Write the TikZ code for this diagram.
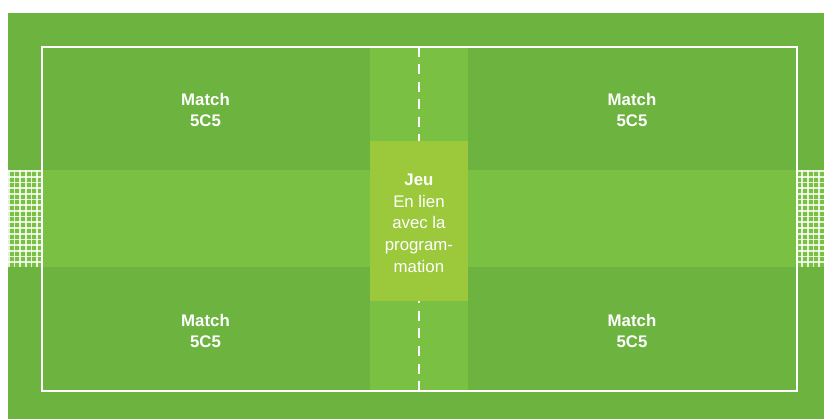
\documentclass[tikz,border=0pt]{standalone}
\usepackage{fontspec}
\setmainfont{Liberation Sans}
\definecolor{fielddark}{HTML}{6CB33F}
\definecolor{fieldlight}{HTML}{7AC143}
\definecolor{boxgreen}{HTML}{9BC93B}
\tikzset{
  lbl/.style={text=white, align=center, inner sep=0pt, font=\fontsize{16.8}{21.6}\selectfont},
  netline/.style={draw=white, draw opacity=0.8, line width=1.7pt},
  fieldline/.style={draw=white, line width=2pt},
  midline/.style={draw=white, line width=2pt, dash pattern=on 10pt off 7.5pt},
}
\begin{document}
\begin{tikzpicture}[x=1pt, y=-1pt]
\useasboundingbox (0,0) rectangle (824,419);
% background
\fill[fielddark] (8,13) rectangle (824,419);
% nets
\fill[fieldlight] (8,170) rectangle (42,267);
\fill[fieldlight] (796,170) rectangle (824,267);
\foreach \x in {9,14.6,...,40} {\draw[netline] (\x,170) -- (\x,267);}
\foreach \x in {802.2,807.8,...,824} {\draw[netline] (\x,170) -- (\x,267);}
\foreach \y in {171,176.7,...,267} {
  \draw[netline] (8,\y) -- (42,\y);
  \draw[netline] (796,\y) -- (824,\y);
}
% bands
\fill[fieldlight] (42,170) rectangle (796,267);
\fill[fieldlight] (370,47) rectangle (467.5,391);
% center box
\node[fill=boxgreen, minimum width=97.5pt, minimum height=160pt, inner sep=0pt, anchor=north west] (box) at (370,141) {};
% field border
\draw[fieldline] (42,47) rectangle (796.5,391);
\coordinate (ctop) at (419,47);
\coordinate (cbot) at (419,391);
\draw[midline] (ctop) -- (box.north -| ctop);
\draw[midline] (cbot) -- (box.south -| cbot);
% texts
\node[lbl] (m1) at (205.5,110) {\textbf{Match}\\\textbf{5C5}};
\node[lbl] (m2) at (632,110) {\textbf{Match}\\\textbf{5C5}};
\node[lbl] (m3) at (205.5,331) {\textbf{Match}\\\textbf{5C5}};
\node[lbl] (m4) at (632,331) {\textbf{Match}\\\textbf{5C5}};
\node[lbl] (jeu) at ([yshift=-2pt]box.center) {\textbf{Jeu}\\En lien\\avec la\\program-\\mation};
\end{tikzpicture}
\end{document}
